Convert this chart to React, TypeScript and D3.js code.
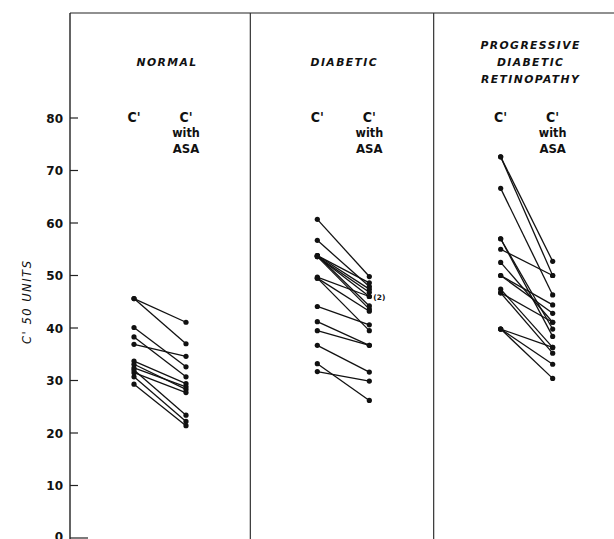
import React from "react";
import * as d3 from "d3";

const groups = ["NORMAL", "DIABETIC", "PROGRESSIVE DIABETIC RETINOPATHY"];
const groupTitles = [["NORMAL"], ["DIABETIC"], ["PROGRESSIVE", "DIABETIC", "RETINOPATHY"]];
const conditions = ["C'", "C' with ASA"];
const yTicks = [0, 10, 20, 30, 40, 50, 60, 70, 80];

const normalBefore = [45.6, 45.6, 40.1, 38.3, 36.9, 33.7, 33.1, 32.4, 31.5, 32.0, 30.7, 29.3];
const normalAfter = [41.1, 37.0, 32.6, 30.7, 34.6, 29.4, 28.3, 28.8, 27.7, 23.4, 22.2, 21.4];

const diabeticBefore = [60.7, 56.7, 53.8, 53.8, 53.8, 53.6, 53.6, 53.6, 49.7, 49.5, 49.5, 44.1, 41.2, 39.5, 36.7, 33.2, 31.7];
const diabeticAfter = [49.8, 47.9, 48.6, 47.4, 44.2, 46.8, 46.0, 43.6, 46.0, 43.2, 39.5, 40.6, 36.7, 36.7, 31.6, 26.2, 29.9];

const retinoBefore = [72.6, 72.6, 66.6, 57.0, 57.0, 55.0, 52.5, 50.0, 50.0, 47.4, 46.7, 46.7, 39.8, 39.8, 39.8];
const retinoAfter = [52.7, 50.0, 46.3, 39.8, 38.4, 50.0, 41.1, 44.4, 42.8, 36.3, 35.2, 41.1, 36.3, 33.1, 30.4];

const seriesBefore = [normalBefore, diabeticBefore, retinoBefore];
const seriesAfter = [normalAfter, diabeticAfter, retinoAfter];

export default function App() {
  const W = 614, H = 539;
  const y = d3.scaleLinear().domain([0, 80]).range([538, 118]);
  const xg = d3.scaleBand().domain(groups).range([68, 618]);
  const xi = d3.scalePoint().domain(conditions).range([66, 118]);
  const axisX = 70;
  const titleShift = [7, 1, 4];
  const font = "'DejaVu Sans', sans-serif";
  const cond = "'DejaVu Sans Condensed', 'DejaVu Sans', sans-serif";

  return (
    <svg width={W} height={H} style={{ position: "absolute", left: 0, top: 0, background: "#fff" }}>
      <line x1={axisX} x2={W} y1={13} y2={13} stroke="#222" strokeWidth={1.2} />
      <line x1={axisX} x2={axisX} y1={13} y2={539} stroke="#222" strokeWidth={1.4} />
      {groups.slice(1).map((g) => (
        <line key={g} x1={xg(g)! - 1} x2={xg(g)! - 1} y1={13} y2={539} stroke="#333" strokeWidth={1.2} />
      ))}
      {yTicks.map((t) => (
        <g key={t}>
          <line x1={axisX} x2={t === 0 ? axisX + 18 : axisX + 8} y1={y(t)} y2={y(t)} stroke="#222" strokeWidth={1.2} />
          <text x={63} y={t === 0 ? y(t) + 3 : y(t) + 4.5} textAnchor="end" fontFamily={font} fontWeight="bold" fontSize={12} fill="#111">
            {t}
          </text>
        </g>
      ))}
      <text
        transform={`translate(31,${y(45)}) rotate(-90)`}
        textAnchor="middle"
        fontFamily={font}
        fontStyle="italic"
        fontSize={11.5}
        letterSpacing={1.5}
        fill="#111"
      >
        C' 50 UNITS
      </text>
      {groups.map((g, gi) => {
        const x0 = xg(g)!;
        const cx = x0 + xi("C'")! + 26 + titleShift[gi];
        const titles = groupTitles[gi];
        const ty0 = titles.length === 1 ? 66 : 49;
        const xb = x0 + xi("C'")!;
        const xa = x0 + xi("C' with ASA")!;
        const before = seriesBefore[gi];
        const after = seriesAfter[gi];
        return (
          <g key={g}>
            {titles.map((t, i) => (
              <text key={t} x={cx} y={ty0 + i * 17} textAnchor="middle" fontFamily={font} fontStyle="italic" fontWeight="bold" fontSize={10.8} letterSpacing={1.4} fill="#111">
                {t}
              </text>
            ))}
            <text x={xb} y={122} textAnchor="middle" fontFamily={cond} fontWeight="bold" fontSize={14} fill="#111">C'</text>
            <text x={xa} y={122} textAnchor="middle" fontFamily={cond} fontWeight="bold" fontSize={14} fill="#111">C'</text>
            <text x={xa} y={137} textAnchor="middle" fontFamily={cond} fontWeight="bold" fontSize={12.5} fill="#111">with</text>
            <text x={xa} y={153} textAnchor="middle" fontFamily={cond} fontWeight="bold" fontSize={13} fill="#111">ASA</text>
            {before.map((v, i) => (
              <line key={"l" + i} x1={xb} x2={xa} y1={y(v)} y2={y(after[i])} stroke="#111" strokeWidth={1.3} />
            ))}
            {before.map((v, i) => (
              <circle key={"b" + i} cx={xb} cy={y(v)} r={2.6} fill="#111" />
            ))}
            {after.map((v, i) => (
              <circle key={"a" + i} cx={xa} cy={y(v)} r={2.6} fill="#111" />
            ))}
            {gi === 1 && (
              <text x={xa + 4} y={y(46.0) + 3.5} fontFamily={font} fontWeight="bold" fontSize={7.5} fill="#111">(2)</text>
            )}
          </g>
        );
      })}
    </svg>
  );
}
